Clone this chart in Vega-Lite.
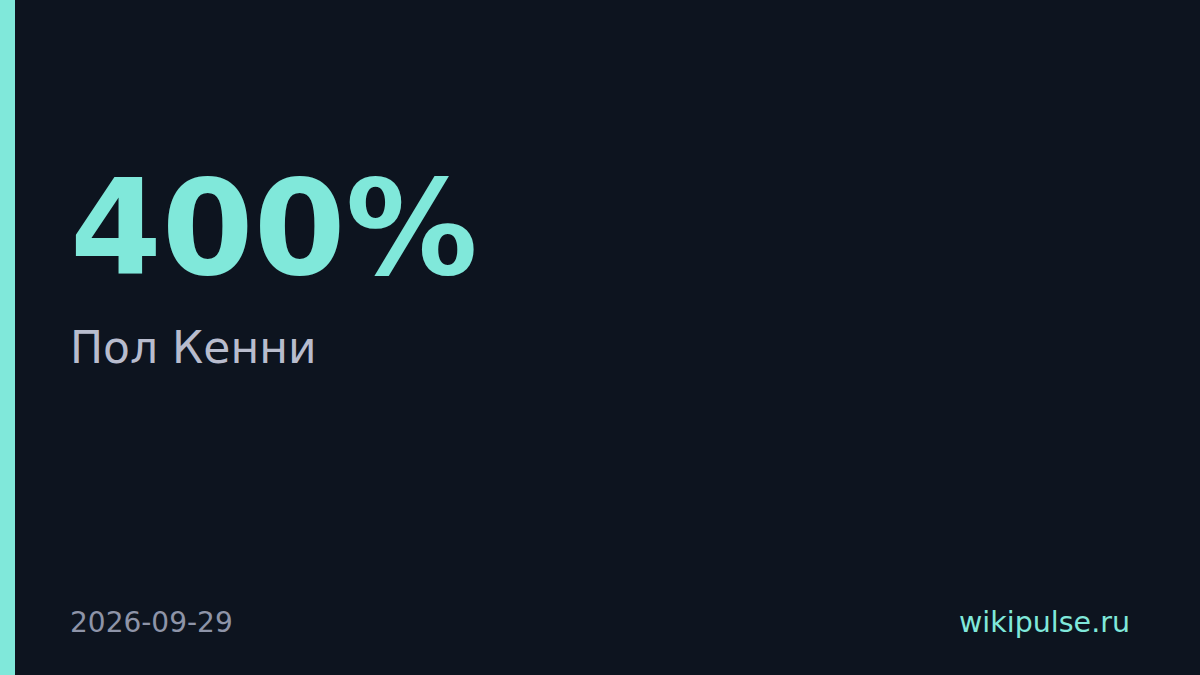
{
  "$schema": "https://vega.github.io/schema/vega-lite/v6.json",
  "autosize": {"type": "fit", "contains": "padding"},
  "width": 1200,
  "height": 675,
  "padding": 0,
  "background": "#0d141f",
  "config": {"view": {"stroke": null}},
  "data": {
    "values": [
      {"role": "value", "text": "400%"},
      {"role": "name", "text": "Пол Кенни"},
      {"role": "date", "text": "2026-09-29"},
      {"role": "site", "text": "wikipulse.ru"}
    ]
  },
  "encoding": {
    "x": {"type": "quantitative", "scale": {"domain": [0, 1200], "nice": false, "zero": false}, "axis": null},
    "y": {"type": "quantitative", "scale": {"domain": [0, 675], "nice": false, "zero": false, "reverse": true}, "axis": null}
  },
  "layer": [
    {
      "transform": [{"filter": "datum.role === 'value'"}],
      "mark": {"type": "rect", "color": "#80e8da"},
      "encoding": {
        "x": {"datum": 0},
        "x2": {"datum": 15},
        "y": {"datum": 0},
        "y2": {"datum": 675}
      }
    },
    {
      "transform": [{"filter": "datum.role === 'value'"}],
      "mark": {"type": "text", "font": "DejaVu Sans", "fontWeight": "bold", "fontSize": 132, "align": "left", "baseline": "alphabetic", "color": "#80e8da"},
      "encoding": {"x": {"datum": 70}, "y": {"datum": 274}, "text": {"field": "text"}}
    },
    {
      "transform": [{"filter": "datum.role === 'name'"}],
      "mark": {"type": "text", "font": "DejaVu Sans", "fontSize": 44, "align": "left", "baseline": "alphabetic", "color": "#b8bccd"},
      "encoding": {"x": {"datum": 70}, "y": {"datum": 363}, "text": {"field": "text"}}
    },
    {
      "transform": [{"filter": "datum.role === 'date'"}],
      "mark": {"type": "text", "font": "DejaVu Sans", "fontSize": 28, "align": "left", "baseline": "alphabetic", "color": "#8e94a8"},
      "encoding": {"x": {"datum": 70}, "y": {"datum": 632}, "text": {"field": "text"}}
    },
    {
      "transform": [{"filter": "datum.role === 'site'"}],
      "mark": {"type": "text", "font": "DejaVu Sans", "fontSize": 28.5, "align": "right", "baseline": "alphabetic", "color": "#80e8da"},
      "encoding": {"x": {"datum": 1130}, "y": {"datum": 632}, "text": {"field": "text"}}
    }
  ]
}
